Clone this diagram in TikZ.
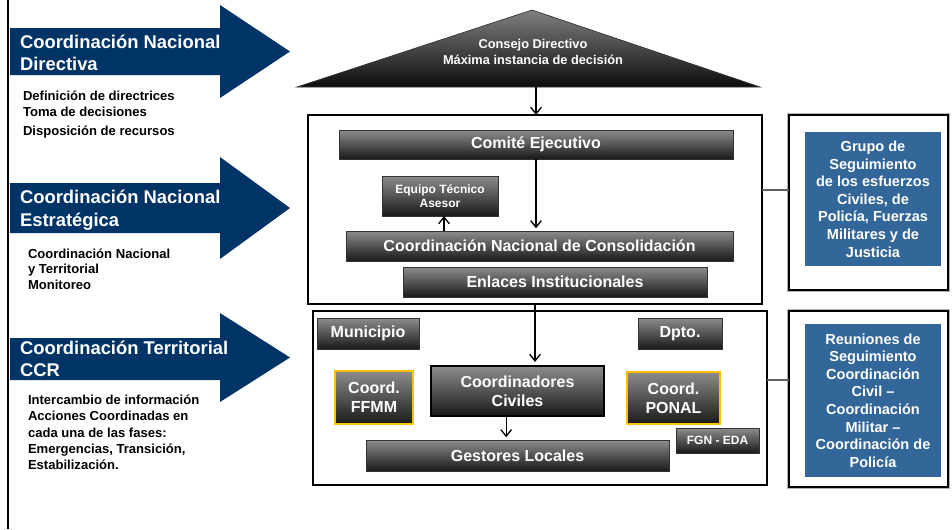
\documentclass[tikz,border=0pt]{standalone}
\usepackage{fontspec}
\setmainfont{Liberation Sans}
\usetikzlibrary{arrows.meta}
\definecolor{navy}{HTML}{003366}
\definecolor{steel}{HTML}{336699}
\definecolor{gold}{HTML}{FFC000}
\newcommand\mybox[7]{\node[#6, minimum width={(#4-#2)*0.75pt}, minimum height={(#5-#3)*0.75pt}] (#1) at ({(#2+#4)/2},{(#3+#5)/2}) {#7};}
\begin{document}
\begin{tikzpicture}[x=0.75pt,y=-0.75pt,
  every node/.style={inner sep=0pt, outer sep=0pt},
  hd/.style={text=white, align=left, anchor=west, font=\bfseries\fontsize{13.8}{16.8}\selectfont},
  sub/.style={text=black, align=left, anchor=west, font=\bfseries\fontsize{9.8}{11.6}\selectfont},
  dark/.style={draw=black!80, line width=0.6pt, top color=black!45, bottom color=black!90, text=white, align=center},
  ftw/.style={font=\bfseries\fontsize{12}{14.5}\selectfont},
  fnine/.style={font=\bfseries\fontsize{9}{10.5}\selectfont},
  goldbox/.style={dark, draw=gold, line width=2.2pt},
  civbox/.style={dark, draw=black, line width=1.5pt},
  frame/.style={draw=black, line width=1.2pt, fill=white},
  outerbox/.style={fill=white, draw=black, line width=0.8pt, preaction={draw=gray!60, line width=2.4pt}},
  bluebox/.style={fill=steel, text=white, align=center, font=\bfseries\fontsize{10.9}{13.2}\selectfont},
  arr/.style={-{Straight Barb[length=5pt,width=8pt]}, line width=1pt},
  link/.style={draw=gray!75!black, line width=1.8pt}]
\useasboundingbox (0,0) rectangle (952,529);
% left vertical line
\draw[line width=1.5pt] (8,0) -- (8,529);
% left arrows
\fill[navy] (10,28) -- (220,28) -- (220,5) -- (290,51.5) -- (220,98) -- (220,75) -- (10,75) -- cycle;
\node[hd] (a1) at (20,53) {Coordinación Nacional\\Directiva};
\node[sub] (s1) at (23,115) {Definición de directrices\\Toma de decisiones\\[3pt]Disposición de recursos};
\fill[navy] (10,183) -- (220,183) -- (220,157) -- (290,208) -- (220,259) -- (220,233) -- (10,233) -- cycle;
\node[hd] (a2) at (20,210) {Coordinación Nacional\\Estratégica};
\node[sub] (s2) at (28,269) {Coordinación Nacional\\y Territorial\\Monitoreo};
\fill[navy] (10,338) -- (220,338) -- (220,313) -- (290,357.5) -- (220,402) -- (220,380) -- (10,380) -- cycle;
\node[hd] (a3) at (20,359) {Coordinación Territorial\\CCR};
\node[sub, font=\bfseries\fontsize{9.8}{12.2}\selectfont] (s3) at (28,432.5) {Intercambio de información\\Acciones Coordinadas en\\cada una de las fases:\\Emergencias, Transición,\\Estabilización.};
% triangle
\shade[top color=black!50, bottom color=black!95, draw=black!80, line width=0.5pt] (297,87) -- (532,10) -- (760,87) -- cycle;
\node[text=white, align=center, font=\bfseries\fontsize{9.6}{11.4}\selectfont] (tri) at (533,52) {Consejo Directivo\\Máxima instancia de decisión};
\coordinate (tb) at (536,87);
% frames
\mybox{box1}{308}{115}{762}{304}{frame}{}
\mybox{box2}{313}{311}{767}{485}{frame}{}
% national boxes
\mybox{ce}{339}{130}{733}{159}{dark,ftw}{Comité Ejecutivo}
\mybox{eta}{382}{176}{498}{216}{dark,fnine}{Equipo Técnico\\Asesor}
\mybox{cnc}{346}{231}{733}{261}{dark,ftw}{Coordinación Nacional de Consolidación}
\mybox{ei}{403}{267}{707}{297}{dark,ftw}{Enlaces Institucionales}
% territorial boxes
\mybox{mun}{317}{318}{419}{349}{dark,ftw}{Municipio}
\mybox{dpt}{638}{318}{722}{349}{dark,ftw}{Dpto.}
\mybox{ffmm}{335}{371}{413}{424}{goldbox,ftw}{Coord.\\FFMM}
\mybox{cc}{431}{366}{604}{416}{civbox,ftw}{Coordinadores\\Civiles}
\mybox{ponal}{627}{372}{720}{424}{goldbox,ftw}{Coord.\\PONAL}
\mybox{fgn}{676}{428}{759}{453}{dark,fnine}{FGN - EDA}
\mybox{gl}{366}{440}{669}{471}{dark,ftw}{Gestores Locales}
% right boxes
\mybox{rb1o}{789}{115}{948}{290}{outerbox}{}
\mybox{rb1}{805}{132}{941}{266}{bluebox}{Grupo de\\Seguimiento\\de los esfuerzos\\Civiles, de\\Policía, Fuerzas\\Militares y de\\Justicia}
\mybox{rb2o}{789}{311}{948}{487}{outerbox}{}
\mybox{rb2}{805}{324}{941}{477}{bluebox}{Reuniones de\\Seguimiento\\Coordinación\\Civil –\\Coordinación\\Militar –\\Coordinación de\\Policía}
% connectors
\draw[arr] (tb) -- (tb |- box1.north);
\draw[arr, shorten >=2pt] (ce.south) -- (ce.south |- cnc.north);
\draw[arr] ([xshift=3pt]eta.south |- cnc.north) -- ([xshift=3pt]eta.south);
\draw[arr, shorten >=3pt] (box1.south) -- (box1.south |- cc.north);
\draw[arr, shorten >=2pt] ([xshift=-8.5pt]cc.south) -- ([xshift=-8.5pt]cc.south |- gl.north);
\coordinate (c1) at (762,190);
\coordinate (c2) at (767,380);
\draw[link] (c1) -- (c1 -| rb1o.west);
\draw[link] (c2) -- (c2 -| rb2o.west);
\end{tikzpicture}
\end{document}
